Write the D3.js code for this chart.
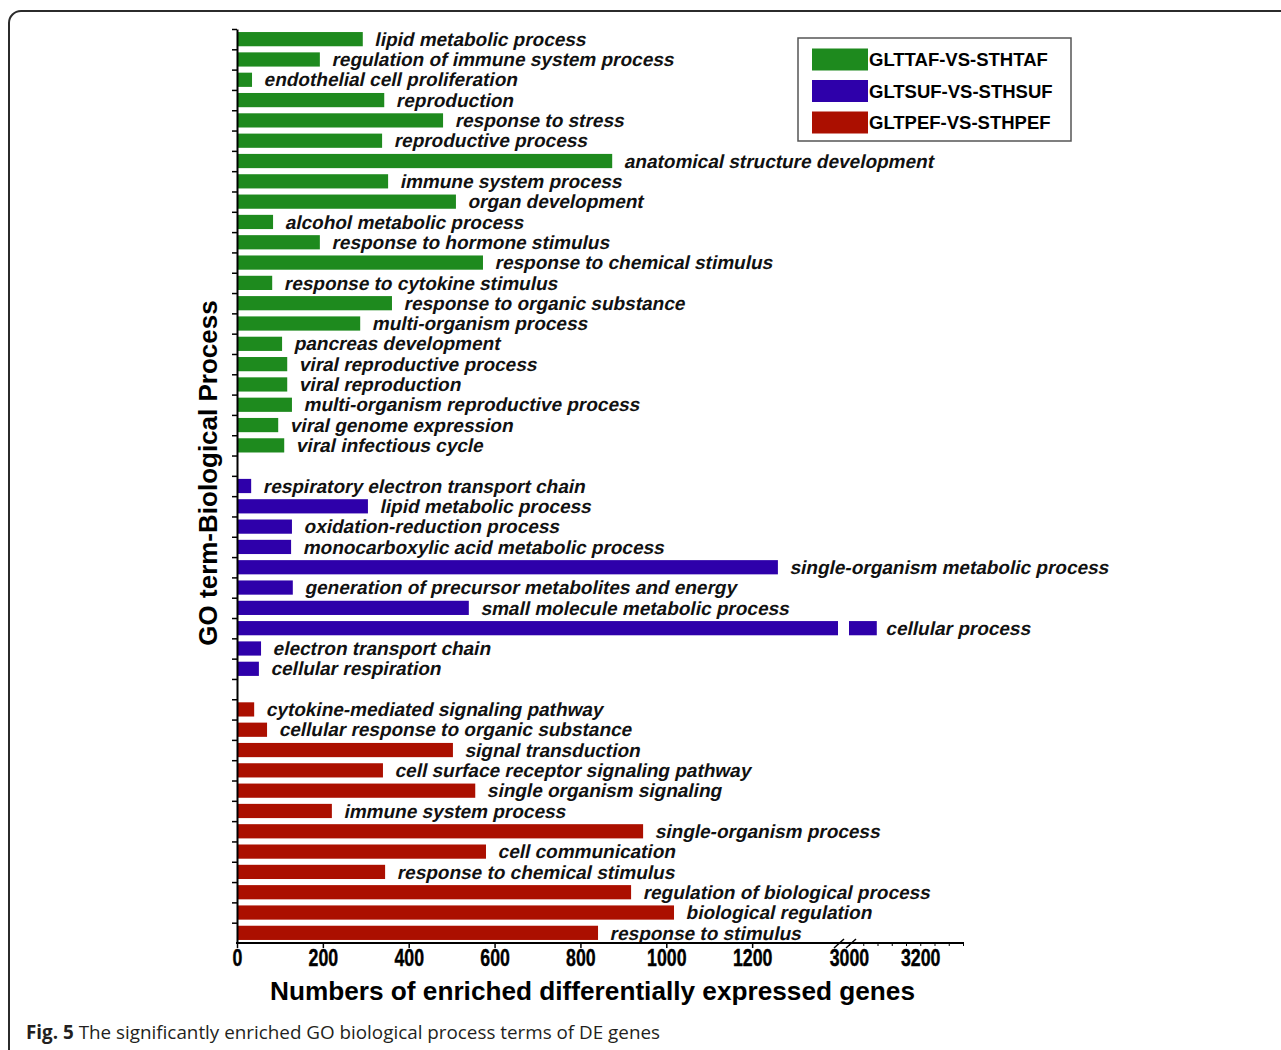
<!DOCTYPE html>
<html>
<head>
<meta charset="utf-8">
<script src="https://cdn.jsdelivr.net/npm/d3@7"></script>
<style>
  body { margin: 0; background: #fff; }
</style>
</head>
<body>
<div id="chart"></div>
<script>
// GO terms and gene counts, one array pair per comparison
const greenTerms = [
  "lipid metabolic process", "regulation of immune system process", "endothelial cell proliferation",
  "reproduction", "response to stress", "reproductive process", "anatomical structure development",
  "immune system process", "organ development", "alcohol metabolic process", "response to hormone stimulus",
  "response to chemical stimulus", "response to cytokine stimulus", "response to organic substance",
  "multi-organism process", "pancreas development", "viral reproductive process", "viral reproduction",
  "multi-organism reproductive process", "viral genome expression", "viral infectious cycle"
];
const greenValues = [293, 193, 35, 343, 480, 338, 874, 352, 510, 84, 193, 573, 82, 361, 287, 105, 117, 117, 128, 96, 110];

const blueTerms = [
  "respiratory electron transport chain", "lipid metabolic process", "oxidation-reduction process",
  "monocarboxylic acid metabolic process", "single-organism metabolic process",
  "generation of precursor metabolites and energy", "small molecule metabolic process",
  "cellular process", "electron transport chain", "cellular respiration"
];
const blueValues = [33, 305, 128, 126, 1260, 130, 540, 3078, 56, 51];

const redTerms = [
  "cytokine-mediated signaling pathway", "cellular response to organic substance", "signal transduction",
  "cell surface receptor signaling pathway", "single organism signaling", "immune system process",
  "single-organism process", "cell communication", "response to chemical stimulus",
  "regulation of biological process", "biological regulation", "response to stimulus"
];
const redValues = [40, 70, 503, 340, 555, 221, 946, 580, 345, 918, 1018, 841];

const seriesNames = ["GLTTAF-VS-STHTAF", "GLTSUF-VS-STHSUF", "GLTPEF-VS-STHPEF"];
const seriesColors = ["#1e8a1e", "#2e00aa", "#ab0f00"];

const ticksLow = [0, 200, 400, 600, 800, 1000, 1200];
const ticksHigh = [3000, 3200];

const width = 1281, height = 1050;
const sans = "'Liberation Sans', Arial, Helvetica, sans-serif";

// rows: each group followed by an empty slot
const rows = [];
[[greenTerms, greenValues], [blueTerms, blueValues], [redTerms, redValues]].forEach(([terms, vals], g) => {
  terms.forEach((t, i) => rows.push({ term: t, value: vals[i], group: g }));
  if (g < 2) rows.push(null);
});
const slots = d3.range(rows.length);
const bars = rows.map((r, i) => r && Object.assign({ slot: i }, r)).filter(r => r);

const svg = d3.select("#chart").append("svg")
    .attr("width", width)
    .attr("height", height)
    .style("font-family", sans);

// rounded figure frame
svg.append("rect")
    .attr("x", 9).attr("y", 11)
    .attr("width", 1300).attr("height", 1080)
    .attr("rx", 12)
    .attr("fill", "none")
    .attr("stroke", "#2b2b2b")
    .attr("stroke-width", 2);

const plotTop = 29, plotBottom = 943, plotLeft = 237;
const breakLow = 1400, breakHigh = 3000;

const xLow = d3.scaleLinear().domain([0, breakLow]).range([plotLeft, 838]);
const xHigh = d3.scaleLinear().domain([breakHigh, 3320]).range([849, 963]);

const y = d3.scaleBand()
    .domain(slots)
    .range([plotTop, plotBottom])
    .paddingInner(0.3)
    .paddingOuter(0.15);

const color = d3.scaleOrdinal().domain([0, 1, 2]).range(seriesColors);

// bars (broken ones get two pieces)
const barG = svg.append("g");
barG.selectAll("rect.low")
  .data(bars)
  .join("rect")
    .attr("class", "low")
    .attr("x", plotLeft + 1)
    .attr("y", d => y(d.slot))
    .attr("width", d => xLow(Math.min(d.value, breakLow)) - plotLeft - 1)
    .attr("height", y.bandwidth())
    .attr("fill", d => color(d.group));

barG.selectAll("rect.high")
  .data(bars.filter(d => d.value > breakHigh))
  .join("rect")
    .attr("class", "high")
    .attr("x", xHigh(breakHigh))
    .attr("y", d => y(d.slot))
    .attr("width", d => xHigh(d.value) - xHigh(breakHigh))
    .attr("height", y.bandwidth())
    .attr("fill", d => color(d.group));

const barEnd = d => d.value > breakHigh ? xHigh(d.value) : xLow(d.value);

// term labels: bold text slanted by hand so the Arial-like face is kept
svg.append("g")
  .selectAll("text")
  .data(bars)
  .join("text")
    .attr("transform", d => `translate(${barEnd(d) + (d.value > breakHigh ? 10 : 13)},${y(d.slot) + y.bandwidth() / 2}) skewX(-12)`)
    .attr("dy", "0.35em")
    .style("font-family", sans)
    .style("font-weight", "bold")
    .style("font-size", "19px")
    .attr("fill", "#111")
    .text(d => d.term);

// y axis: ticks at every slot boundary
const yTicks = d3.scaleLinear().domain([0, slots.length]).range([plotTop, plotBottom]);
svg.append("g")
    .attr("transform", `translate(${plotLeft},0)`)
    .call(d3.axisLeft(yTicks).tickValues(d3.range(slots.length)).tickSize(5).tickSizeOuter(0).tickFormat(""))
    .call(g => g.select(".domain").attr("stroke-width", 2))
    .call(g => g.selectAll(".tick line").attr("stroke-width", 1.5));

// x axis, two segments on one line
const xAxisG = svg.append("g").attr("transform", `translate(0,${plotBottom})`);
xAxisG.append("line")
    .attr("x1", plotLeft - 1).attr("x2", 964)
    .attr("stroke", "#000").attr("stroke-width", 2);

// condensed bold numbers, as in the original figure
const styleTicks = g => {
  g.select(".domain").remove();
  g.selectAll(".tick line").attr("stroke-width", 1.5);
  g.selectAll(".tick text")
      .style("font-size", "24px")
      .style("font-weight", "bold")
      .style("font-family", sans)
      .attr("fill", "#000")
      .attr("stroke", "#000")
      .attr("stroke-width", 0.4)
      .attr("y", 6)
      .attr("transform", "scale(0.74,1)");
};

xAxisG.append("g")
    .call(d3.axisBottom(xLow).tickValues(ticksLow).tickSize(5).tickFormat(d3.format("d")))
    .call(styleTicks);

xAxisG.append("g")
    .call(d3.axisBottom(xHigh).tickValues(d3.range(3000, 3321, 40)).tickSize(3).tickFormat(""))
    .call(g => g.select(".domain").remove());

xAxisG.append("g")
    .call(d3.axisBottom(xHigh).tickValues(ticksHigh).tickSize(0).tickFormat(d3.format("d")))
    .call(styleTicks);

// break marks
xAxisG.selectAll("line.brk")
  .data([839, 851])
  .join("line")
    .attr("class", "brk")
    .attr("x1", d => d - 5).attr("y1", 5)
    .attr("x2", d => d + 5).attr("y2", -4)
    .attr("stroke", "#000").attr("stroke-width", 1.5);

// axis titles
svg.append("text")
    .attr("x", 270).attr("y", 1000)
    .attr("textLength", 645)
    .attr("lengthAdjust", "spacingAndGlyphs")
    .style("font-size", "25px")
    .style("font-weight", "bold")
    .attr("fill", "#000")
    .text("Numbers of enriched differentially expressed genes");

svg.append("text")
    .attr("transform", "translate(217,473) rotate(-90)")
    .attr("text-anchor", "middle")
    .style("font-size", "26px")
    .style("font-weight", "bold")
    .attr("fill", "#000")
    .text("GO term-Biological Process");

// legend
const legend = svg.append("g");
legend.append("rect")
    .attr("x", 798).attr("y", 38)
    .attr("width", 273).attr("height", 103)
    .attr("fill", "#fff")
    .attr("stroke", "#555")
    .attr("stroke-width", 1.5);

const legendItem = legend.selectAll("g.item")
  .data(seriesNames)
  .join("g")
    .attr("class", "item")
    .attr("transform", (d, i) => `translate(812,${59.5 + i * 31.5})`);

legendItem.append("rect")
    .attr("y", -11)
    .attr("width", 56).attr("height", 22)
    .attr("fill", (d, i) => seriesColors[i]);

legendItem.append("text")
    .attr("x", 57)
    .attr("dy", "0.36em")
    .style("font-size", "18.5px")
    .style("font-weight", "bold")
    .attr("fill", "#000")
    .text(d => d);

// caption
const caption = svg.append("text")
    .attr("x", 26).attr("y", 1039)
    .attr("textLength", 634)
    .attr("lengthAdjust", "spacingAndGlyphs")
    .style("font-family", "'Open Sans', 'Noto Sans', sans-serif")
    .style("font-size", "19px")
    .attr("fill", "#231f20");
caption.append("tspan").style("font-weight", "bold").text("Fig. 5");
caption.append("tspan").text(" The significantly enriched GO biological process terms of DE genes");
</script>
</body>
</html>
